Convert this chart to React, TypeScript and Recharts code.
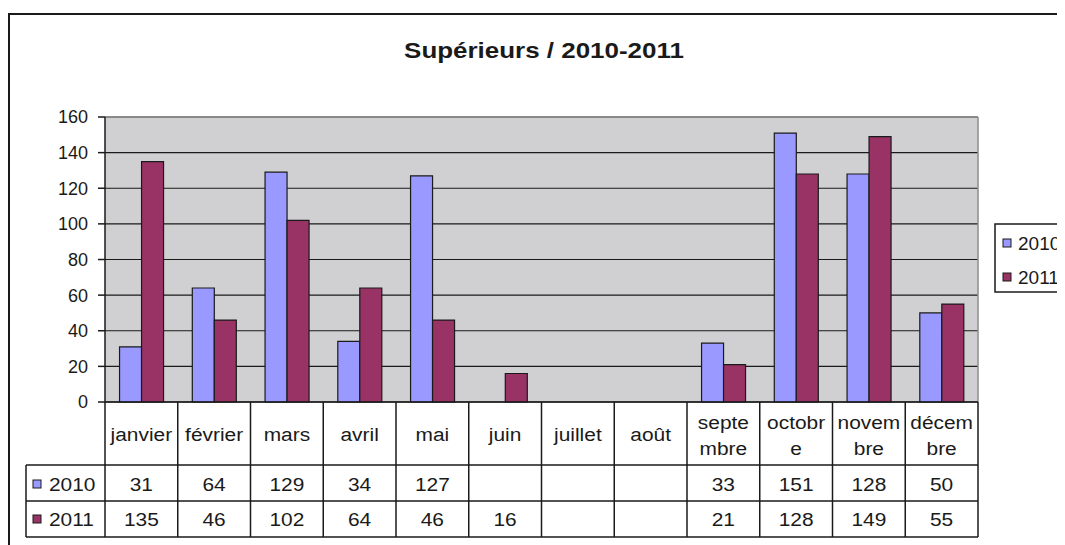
import React from 'react';
import { BarChart, Bar, XAxis, YAxis, CartesianGrid, Customized } from 'recharts';

const MONTHS = ['janvier', 'février', 'mars', 'avril', 'mai', 'juin', 'juillet', 'août', 'septembre', 'octobre', 'novembre', 'décembre'];
// labels as wrapped in the data table
const MONTH_LABELS = [
  ['janvier'], ['février'], ['mars'], ['avril'], ['mai'], ['juin'], ['juillet'], ['août'],
  ['septe', 'mbre'], ['octobr', 'e'], ['novem', 'bre'], ['décem', 'bre'],
];
const Y2010 = [31, 64, 129, 34, 127, null, null, null, 33, 151, 128, 50];
const Y2011 = [135, 46, 102, 64, 46, 16, null, null, 21, 128, 149, 55];
const SERIES = ['2010', '2011'];
const Y_TICKS = [0, 20, 40, 60, 80, 100, 120, 140, 160];

const data = MONTHS.map((m, i) => ({ month: m, y2010: Y2010[i], y2011: Y2011[i] }));

const W = 1057;
const H = 537;
const PLOT_L = 97;
const PLOT_R = 970;
const PLOT_T = 109;
const PLOT_B = 394;
const BAND = (PLOT_R - PLOT_L) / MONTHS.length;
const ROW1 = 457;
const ROW2 = 493;
const ROW_END = 529;
const LABEL_X = 18;

const COLORS = ['#9999ff', '#993366'];
const INK = '#1a1a1a';
const FONT = '"Liberation Sans", Arial, sans-serif';

// the source picture is a bit stretched horizontally, so text is widened
const Txt = ({ x, y, size = 19, sx = 1.1, anchor = 'middle', bold = false, children }: any) => (
  <text
    transform={`translate(${x},${y}) scale(${sx},1)`}
    textAnchor={anchor}
    fontSize={size}
    fontWeight={bold ? 'bold' : 'normal'}
    fill={INK}
    fontFamily={FONT}
  >
    {children}
  </text>
);

const TableTick = (props: any) => {
  const { x, index } = props;
  const left = x - BAND / 2;
  const right = x + BAND / 2;
  const lines = MONTH_LABELS[index];
  const v1 = Y2010[index];
  const v2 = Y2011[index];
  return (
    <g>
      <line x1={right} x2={right} y1={PLOT_B} y2={ROW_END} stroke={INK} strokeWidth={1.5} />
      {index === 0 && <line x1={left} x2={left} y1={PLOT_B} y2={ROW_END} stroke={INK} strokeWidth={1.5} />}
      {lines.map((t, k) => (
        <Txt key={k} x={x} y={(lines.length === 1 ? 426 : 414 + k * 26) + 7}>{t}</Txt>
      ))}
      {v1 != null && <Txt x={x} y={476 + 7}>{v1}</Txt>}
      {v2 != null && <Txt x={x} y={511 + 7}>{v2}</Txt>}
    </g>
  );
};

const Extras = () => (
  <g fontFamily={FONT}>
    {/* chart area border */}
    <rect x={1} y={6} width={2000} height={2000} fill="none" stroke={INK} strokeWidth={2} />
    <Txt x={536} y={50} size={22} sx={1.18} bold>Supérieurs / 2010-2011</Txt>
    {/* plot border top/right */}
    <line x1={PLOT_L} x2={PLOT_R} y1={PLOT_T} y2={PLOT_T} stroke="#8c8c8c" strokeWidth={1.5} />
    <line x1={PLOT_R} x2={PLOT_R} y1={PLOT_T} y2={PLOT_B} stroke="#8c8c8c" strokeWidth={1.5} />
    {/* data table frame */}
    <line x1={LABEL_X} x2={PLOT_R} y1={ROW1} y2={ROW1} stroke={INK} strokeWidth={1.5} />
    <line x1={LABEL_X} x2={PLOT_R} y1={ROW2} y2={ROW2} stroke={INK} strokeWidth={1.5} />
    <line x1={LABEL_X} x2={PLOT_R} y1={ROW_END} y2={ROW_END} stroke={INK} strokeWidth={1.5} />
    <line x1={LABEL_X} x2={LABEL_X} y1={ROW1} y2={ROW_END} stroke={INK} strokeWidth={1.5} />
    {SERIES.map((s, i) => {
      const cy = i === 0 ? 476 : 511;
      return (
        <g key={s}>
          <rect x={25} y={cy - 4} width={8} height={8} fill={COLORS[i]} stroke={INK} strokeWidth={1} />
          <Txt x={41} y={cy + 7} anchor="start">{s}</Txt>
        </g>
      );
    })}
    {/* legend */}
    <rect x={987} y={216} width={120} height={68} fill="#fff" stroke={INK} strokeWidth={1.5} />
    {SERIES.map((s, i) => {
      const cy = i === 0 ? 235 : 269;
      return (
        <g key={s}>
          <rect x={995} y={cy - 4} width={8} height={8} fill={COLORS[i]} stroke={INK} strokeWidth={1} />
          <Txt x={1010} y={cy + 7} anchor="start" size={19} sx={1.0}>{s}</Txt>
        </g>
      );
    })}
  </g>
);

export default function App() {
  return (
    <div style={{ width: W, height: H, background: '#fff' }}>
      <BarChart
        width={W}
        height={H}
        data={data}
        margin={{ top: PLOT_T, right: W - PLOT_R, left: 27, bottom: 8 }}
        barCategoryGap="20%"
        barGap={0}
      >
        <CartesianGrid vertical={false} stroke={INK} strokeWidth={1.2} fill="#d0d0d2" fillOpacity={1} />
        <XAxis
          dataKey="month"
          interval={0}
          height={135}
          tickLine={false}
          axisLine={{ stroke: INK, strokeWidth: 1.5 }}
          tick={<TableTick />}
        />
        <YAxis
          width={70}
          domain={[0, 160]}
          ticks={Y_TICKS}
          interval={0}
          tickSize={7}
          tickMargin={10}
          axisLine={{ stroke: INK, strokeWidth: 1.5 }}
          tickLine={{ stroke: INK, strokeWidth: 1.5 }}
          tick={{ fill: INK, fontSize: 18, fontFamily: FONT }}
        />
        <Bar dataKey="y2010" fill={COLORS[0]} stroke={INK} strokeWidth={1.2} isAnimationActive={false} />
        <Bar dataKey="y2011" fill={COLORS[1]} stroke={INK} strokeWidth={1.2} isAnimationActive={false} />
        <Customized component={Extras} />
      </BarChart>
    </div>
  );
}
